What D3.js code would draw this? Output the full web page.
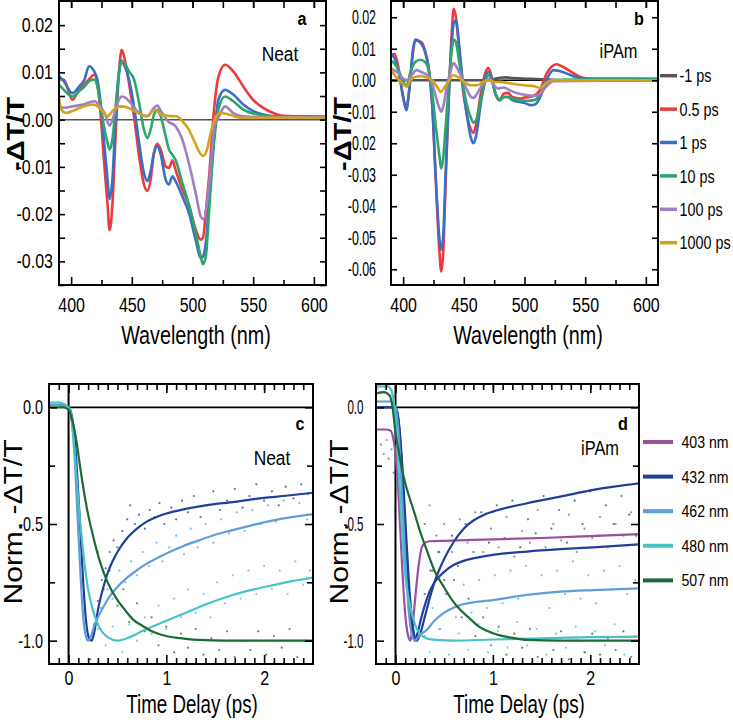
<!DOCTYPE html>
<html><head><meta charset="utf-8">
<script src="https://cdn.jsdelivr.net/npm/d3@7"></script>
<style>body{margin:0;background:#fff}svg{display:block}</style>
</head><body>
<svg id="chart" width="733" height="723"></svg>
<script>
// ---------------- DATA ----------------
// Panel a (Neat) transient spectra
const aWl = [390,394,401,406.5,411,414.7,419,421.6,424,427,430,431.7,434,436.7,439.4,441.6,443.6,447.7,451.8,456,460,462.8,465.5,468.3,471,473.8,477.9,480.6,483.4,486,491.6,497,502.6,506.7,508.6,511,514,517.7,521.3,526.8,533.6,541.9,550,558.3,566.6,574.8,588.6,610];
const aRed = [0.0085,0.0085,0.0042,0.0063,0.0075,0.0085,0.0095,0.0077,0.002,-0.0085,-0.018,-0.0234,-0.018,-0.003,0.0099,0.0148,0.0134,0.0077,0.0007,-0.0077,-0.0137,-0.0151,-0.0127,-0.007,-0.0051,-0.0063,-0.0099,-0.0102,-0.0086,-0.0106,-0.0148,-0.018,-0.0232,-0.0254,-0.025,-0.0195,-0.011,0.002,0.009,0.0116,0.0102,0.007,0.0042,0.0025,0.0014,0.0008,0.0007,0.0006];
const aBlue = [0.0092,0.0081,0.0056,0.007,0.0085,0.0113,0.0102,0.0085,0.0042,-0.0042,-0.0127,-0.0168,-0.0127,0.0007,0.0099,0.0125,0.0116,0.0085,0.0028,-0.0049,-0.0113,-0.013,-0.0109,-0.007,-0.0056,-0.0074,-0.0127,-0.0137,-0.012,-0.013,-0.0162,-0.0197,-0.0254,-0.0293,-0.029,-0.026,-0.016,-0.0042,0.0042,0.0063,0.0053,0.0032,0.0018,0.0011,0.0007,0.0006,0.0006,0.0006];
const aGreen = [0.0074,0.0063,0.0049,0.006,0.007,0.0081,0.0085,0.007,0.0035,-0.0014,-0.0049,-0.0063,-0.0042,0.0028,0.0099,0.0123,0.012,0.0102,0.0085,0.0035,-0.0021,-0.0039,-0.0021,0.0011,0.0021,0.0007,-0.0035,-0.0063,-0.0074,-0.0085,-0.0134,-0.018,-0.0239,-0.0289,-0.0306,-0.0289,-0.018,-0.0049,0.0021,0.0049,0.0039,0.0021,0.0013,0.0009,0.0007,0.0006,0.0006,0.0006];
const aPurple = [[390,0.0028],[394,0.0025],[401,0.0028],[410,0.0032],[419,0.0039],[424,0.0028],[428,0.0011],[431.7,-0.0013],[435,0.0007],[439.4,0.0042],[441.6,0.0049],[445,0.0046],[450,0.0032],[456,0.0014],[462.8,0.0007],[468.3,0.0025],[471,0.003],[474,0.0018],[480,-0.0004],[486,-0.0014],[491.6,-0.0042],[497,-0.0092],[502.6,-0.0155],[506.7,-0.0204],[509,-0.0211],[512,-0.0176],[515,-0.0099],[518,-0.0014],[521.3,0.0004],[526.8,0.0028],[533.6,0.0014],[541.9,0.0007],[560,0.0005],[610,0.0005]];
const aGold = [[390,0.0045],[392,0.0021],[396,0.0014],[401,0.0018],[410,0.0028],[418,0.0032],[422,0.0028],[427,0.0014],[430,0.0007],[434,0.0018],[440,0.0028],[447,0.0025],[455,0.0014],[462,0.0007],[469,0.0021],[474,0.0011],[480,0.0008],[487,0.0007],[492,-0.0004],[497,-0.0021],[502,-0.0049],[506,-0.007],[509,-0.0077],[512,-0.0063],[515,-0.0028],[519,0.0004],[523,0.0014],[530,0.0011],[540,0.0004],[610,0.0004]];

// Panel b (iPAm) transient spectra
const bGray = [[390,0],[470,0],[476,0.0005],[480,0.0008],[485,0.0009],[490,0.0007],[500,0.0005],[510,0.0004],[520,0.0002],[530,0],[610,0]];
const bRed = [[390,0.0074],[393,0.0084],[396,0.0042],[400,-0.0053],[402.6,-0.009],[405,-0.0032],[408,0.0084],[410,0.0127],[415,0.0121],[418,0.0095],[421,0.0042],[424,-0.0074],[427,-0.0327],[430,-0.0549],[431.4,-0.0607],[433,-0.0549],[435,-0.0327],[437.5,-0.0063],[440,0.0148],[441.6,0.0227],[443.5,0.02],[446,0.0105],[449,-0.0021],[452.3,-0.0105],[456,-0.0158],[458,-0.0167],[460,-0.0142],[464,-0.0042],[468,0.0026],[470.3,0.0039],[472.6,0.0016],[476,-0.0042],[479.5,-0.0063],[483,-0.0042],[486,-0.004],[490,-0.0053],[496,-0.0058],[500,-0.0055],[507,-0.005],[512.6,-0.0032],[518.2,0.0021],[526.4,0.0051],[531.9,0.0042],[540,0.0023],[548.3,0.0008],[556.6,0.0005],[610,0.0005]];
const bBlue = [[390,0.0084],[393,0.0069],[396,0.0032],[400,-0.0053],[402.6,-0.0095],[405,-0.0032],[408,0.0095],[410,0.0129],[415,0.0116],[418,0.009],[421,0.0037],[424,-0.0084],[427,-0.0316],[430,-0.0506],[431.4,-0.0538],[433,-0.0496],[435,-0.0295],[437.5,-0.0063],[440,0.0116],[441.6,0.0179],[443.5,0.019],[446,0.0116],[449,0],[452.3,-0.0105],[456,-0.0185],[458,-0.02],[460,-0.0179],[464,-0.0074],[468,0.0011],[470.3,0.0026],[472.6,0.0011],[476,-0.0042],[479.5,-0.0063],[483,-0.0053],[486,-0.0053],[490,-0.0063],[496,-0.0069],[500,-0.0072],[505,-0.0079],[509,-0.0076],[513,-0.0053],[518,0],[524,0.0032],[528,0.003],[535,0.0021],[542,0.0011],[550,0.0005],[610,0.0004]];
const bGreen = [[390,0.0063],[394,0.0047],[398,0.0016],[401,-0.0011],[403,-0.0016],[406,0.0026],[410,0.0058],[414,0.0065],[418,0.0058],[421,0.0032],[424,-0.0042],[427,-0.0148],[430,-0.0243],[431.4,-0.028],[433,-0.0248],[435,-0.0148],[437.5,-0.0021],[440,0.0095],[441.6,0.0129],[443.5,0.0121],[446,0.0063],[449,-0.0011],[452.3,-0.0074],[456,-0.0121],[458,-0.0135],[460,-0.0127],[464,-0.0063],[468,0],[470.3,0.0016],[472.6,0.0005],[476,-0.0042],[479.5,-0.0063],[483,-0.0053],[486,-0.0053],[490,-0.0058],[496,-0.0063],[502,-0.0065],[508,-0.0063],[513,-0.0047],[518,-0.0016],[524,0],[535,0.0002],[610,0.0002]];
const bPurple = [[390,0.0037],[395,0.0026],[400,0.0005],[403,0],[407,0.0016],[411,0.0032],[415,0.0026],[420,0.0016],[424,-0.0011],[427,-0.0053],[430,-0.009],[431.4,-0.01],[433,-0.0084],[436,-0.0021],[440,0.0042],[441.6,0.0055],[444,0.0042],[448,0.0011],[452,-0.0026],[456,-0.0053],[458,-0.0056],[461,-0.0042],[465,-0.0016],[469,0],[471,0.0004],[474,-0.0011],[478,-0.0026],[483,-0.0023],[488,-0.0032],[495,-0.0042],[502,-0.0047],[508,-0.005],[513,-0.0042],[518,-0.0019],[524,-0.0003],[610,0]];
const bGold = [[390,0.0037],[393,0.0016],[397,0],[401,-0.0016],[403,-0.0021],[406,0],[410,0.0011],[415,0.0013],[420,0.0008],[424,0],[428,-0.0021],[431,-0.0037],[434,-0.0023],[438,0],[441,0.0016],[445,0.0011],[450,-0.0005],[456,-0.0016],[461,-0.0016],[466,-0.0005],[470,0],[475,-0.0005],[480,-0.0005],[490,-0.0011],[500,-0.0016],[508,-0.0019],[513,-0.0025],[517,-0.0011],[522,0],[610,0]];
const delayLabels = ["-1 ps","0.5 ps","1 ps","10 ps","100 ps","1000 ps"];
const specColors = ["#555555","#ec3a3f","#3b6fc3","#2ca66a","#a17fc6","#d3a21f"];

// Panel c (Neat) kinetics: fits and data points [time (ps), norm. signal]
const c432Fit = [[-0.2,0.01],[-0.1,0.01],[0,0],[0.03,-0.03],[0.06,-0.12],[0.09,-0.3],[0.12,-0.52],[0.15,-0.75],[0.18,-0.92],[0.21,-0.99],[0.235,-1.0],[0.26,-0.97],[0.3,-0.87],[0.35,-0.78],[0.4,-0.71],[0.45,-0.66],[0.5,-0.62],[0.6,-0.56],[0.7,-0.52],[0.8,-0.49],[0.9,-0.47],[1.0,-0.455],[1.2,-0.435],[1.4,-0.42],[1.7,-0.405],[2.0,-0.388],[2.2,-0.38],[2.5,-0.366]];
const c462Fit = [[-0.2,0.01],[-0.1,0.01],[0,0],[0.03,-0.05],[0.06,-0.2],[0.09,-0.45],[0.12,-0.7],[0.15,-0.9],[0.18,-0.985],[0.2,-1.0],[0.23,-0.98],[0.26,-0.94],[0.3,-0.9],[0.35,-0.86],[0.42,-0.81],[0.5,-0.77],[0.6,-0.73],[0.66,-0.71],[0.8,-0.67],[1.0,-0.626],[1.17,-0.595],[1.34,-0.569],[1.5,-0.546],[1.68,-0.526],[1.85,-0.508],[2.02,-0.491],[2.25,-0.473],[2.5,-0.458]];
const c480Fit = [[-0.2,0.02],[-0.1,0.02],[0,0],[0.03,-0.04],[0.06,-0.18],[0.1,-0.4],[0.15,-0.62],[0.2,-0.78],[0.25,-0.87],[0.3,-0.93],[0.4,-0.985],[0.5,-1.0],[0.6,-0.99],[0.7,-0.97],[0.8,-0.95],[1.0,-0.915],[1.2,-0.88],[1.4,-0.845],[1.6,-0.815],[1.8,-0.79],[2.0,-0.77],[2.2,-0.752],[2.5,-0.73]];
const c507Fit = [[-0.2,0],[-0.05,0],[0,-0.01],[0.04,-0.06],[0.083,-0.15],[0.12,-0.26],[0.186,-0.43],[0.25,-0.55],[0.32,-0.66],[0.4,-0.75],[0.49,-0.82],[0.58,-0.87],[0.66,-0.91],[0.75,-0.935],[0.83,-0.955],[1.0,-0.98],[1.2,-0.992],[1.34,-0.997],[1.6,-1.0],[2.5,-1.0]];
const c432Dots = [[0.22,-1.08],[0.26,-0.93],[0.3,-0.83],[0.34,-0.74],[0.38,-0.69],[0.42,-0.62],[0.46,-0.57],[0.5,-0.6],[0.55,-0.53],[0.6,-0.48],[0.63,-0.42],[0.68,-0.5],[0.72,-0.46],[0.78,-0.52],[0.83,-0.44],[0.88,-0.47],[0.93,-0.41],[0.98,-0.5],[1.05,-0.43],[1.1,-0.48],[1.16,-0.4],[1.22,-0.45],[1.28,-0.38],[1.35,-0.47],[1.42,-0.42],[1.48,-0.36],[1.55,-0.44],[1.62,-0.4],[1.7,-0.35],[1.78,-0.43],[1.85,-0.38],[1.92,-0.33],[2.0,-0.4],[2.08,-0.36],[2.15,-0.42],[2.22,-0.34],[2.3,-0.39],[2.38,-0.33],[2.45,-0.37]];
const c462Dots = [[0.28,-0.9],[0.33,-0.86],[0.4,-0.78],[0.45,-0.82],[0.52,-0.7],[0.58,-0.75],[0.64,-0.66],[0.7,-0.72],[0.76,-0.62],[0.82,-0.68],[0.9,-0.58],[0.96,-0.66],[1.03,-0.6],[1.1,-0.55],[1.18,-0.63],[1.25,-0.52],[1.32,-0.6],[1.4,-0.5],[1.48,-0.58],[1.56,-0.48],[1.64,-0.54],[1.72,-0.45],[1.8,-0.53],[1.88,-0.44],[1.96,-0.5],[2.04,-0.42],[2.12,-0.49],[2.2,-0.4],[2.28,-0.47],[2.36,-0.41],[2.44,-0.48]];
const c480Dots = [[0.3,-0.95],[0.38,-1.02],[0.45,-0.94],[0.55,-1.05],[0.62,-0.93],[0.7,-1.0],[0.78,-0.9],[0.85,-0.97],[0.92,-0.85],[1.0,-0.95],[1.08,-0.82],[1.15,-0.9],[1.22,-0.78],[1.3,-0.88],[1.38,-0.8],[1.45,-0.9],[1.52,-0.75],[1.6,-0.84],[1.68,-0.72],[1.76,-0.82],[1.84,-0.7],[1.92,-0.8],[2.0,-0.68],[2.08,-0.78],[2.16,-0.7],[2.24,-0.8],[2.32,-0.66],[2.4,-0.76],[2.47,-0.7]];
const c507Dots = [[0.3,-0.62],[0.36,-0.78],[0.42,-0.7],[0.5,-0.85],[0.56,-0.78],[0.62,-0.92],[0.7,-0.84],[0.78,-0.96],[0.85,-0.9],[0.92,-1.02],[1.0,-0.94],[1.08,-1.05],[1.15,-0.97],[1.22,-1.03],[1.3,-0.95],[1.38,-1.06],[1.46,-0.99],[1.54,-1.04],[1.62,-0.96],[1.7,-1.07],[1.78,-1.0],[1.86,-1.04],[1.94,-0.96],[2.02,-1.06],[2.1,-0.98],[2.18,-1.03],[2.26,-0.95],[2.34,-1.07],[2.42,-1.0]];

// Panel d (iPAm) kinetics
const d403Fit = [[-0.2,-0.095],[-0.1,-0.095],[-0.05,-0.1],[-0.03,-0.12],[0,-0.2],[0.034,-0.4],[0.068,-0.68],[0.103,-0.9],[0.137,-0.99],[0.152,-1.0],[0.17,-0.96],[0.2,-0.83],[0.237,-0.68],[0.27,-0.6],[0.305,-0.58],[0.35,-0.574],[0.5,-0.572],[1.0,-0.566],[1.5,-0.56],[2.0,-0.552],[2.5,-0.543]];
const d432FitA = [[-0.2,0],[0,0],[0.03,-0.05],[0.07,-0.25],[0.11,-0.55],[0.15,-0.82],[0.19,-0.97],[0.22,-1.0],[0.25,-0.975],[0.3,-0.9],[0.35,-0.82],[0.4,-0.75],[0.5,-0.65],[0.6,-0.575],[0.7,-0.52],[0.8,-0.485],[0.9,-0.462],[1.0,-0.447],[1.35,-0.411],[1.69,-0.383],[2.03,-0.354],[2.5,-0.326]];
const d432FitB = [[-0.2,0],[0,0],[0.03,-0.05],[0.07,-0.28],[0.11,-0.6],[0.15,-0.87],[0.185,-0.99],[0.2,-1.0],[0.225,-0.97],[0.26,-0.91],[0.3,-0.85],[0.35,-0.79],[0.4,-0.75],[0.5,-0.705],[0.6,-0.675],[0.7,-0.658],[0.85,-0.643],[1.0,-0.632],[1.35,-0.618],[1.69,-0.608],[2.03,-0.6],[2.5,-0.587]];
const d462Fit = [[-0.2,0.025],[-0.05,0.025],[0,0],[0.03,-0.1],[0.07,-0.4],[0.11,-0.72],[0.15,-0.93],[0.18,-0.99],[0.2,-1.0],[0.24,-0.98],[0.32,-0.954],[0.4,-0.915],[0.49,-0.883],[0.58,-0.862],[0.665,-0.847],[0.8,-0.836],[1.0,-0.826],[1.35,-0.804],[1.69,-0.79],[2.03,-0.783],[2.5,-0.776]];
const d480Fit = [[-0.2,0.09],[-0.08,0.09],[-0.04,0.07],[0,-0.05],[0.03,-0.25],[0.07,-0.55],[0.1,-0.72],[0.15,-0.85],[0.2,-0.93],[0.25,-0.97],[0.32,-0.99],[0.42,-0.997],[0.6,-1.0],[1.0,-0.995],[1.5,-0.99],[2.0,-0.985],[2.5,-0.983]];
const d507Fit = [[-0.2,0.06],[-0.12,0.065],[-0.06,0.05],[-0.03,0.0],[0,-0.11],[0.034,-0.19],[0.068,-0.268],[0.11,-0.34],[0.152,-0.397],[0.2,-0.46],[0.237,-0.511],[0.28,-0.565],[0.32,-0.611],[0.4,-0.7],[0.494,-0.768],[0.58,-0.825],[0.665,-0.868],[0.75,-0.9],[0.836,-0.933],[1.0,-0.968],[1.2,-0.988],[1.35,-0.997],[1.7,-1.0],[2.5,-1.0]];
const d403Dots = [[-0.15,-0.16],[-0.12,-0.2],[-0.09,-0.14],[-0.07,-0.22],[-0.04,-0.18],[-0.02,-0.28],[0.35,-0.42],[0.42,-0.55],[0.5,-0.5],[0.58,-0.62],[0.66,-0.48],[0.74,-0.58],[0.82,-0.45],[0.9,-0.62],[0.98,-0.52],[1.06,-0.6],[1.14,-0.47],[1.22,-0.64],[1.3,-0.53],[1.38,-0.58],[1.46,-0.44],[1.54,-0.6],[1.62,-0.5],[1.7,-0.57],[1.78,-0.46],[1.86,-0.62],[1.94,-0.52],[2.02,-0.56],[2.1,-0.47],[2.18,-0.6],[2.26,-0.5],[2.34,-0.55],[2.42,-0.45]];
const d432Dots = [[0.3,-0.8],[0.36,-0.7],[0.44,-0.62],[0.5,-0.74],[0.58,-0.55],[0.64,-0.68],[0.72,-0.5],[0.8,-0.62],[0.88,-0.45],[0.96,-0.58],[1.04,-0.42],[1.12,-0.56],[1.2,-0.4],[1.28,-0.6],[1.36,-0.48],[1.44,-0.54],[1.52,-0.38],[1.6,-0.52],[1.68,-0.44],[1.76,-0.58],[1.84,-0.4],[1.92,-0.5],[2.0,-0.36],[2.08,-0.55],[2.16,-0.42],[2.24,-0.5],[2.32,-0.38],[2.4,-0.46],[2.47,-0.55]];
const d462Dots = [[0.3,-0.98],[0.38,-0.86],[0.46,-0.95],[0.54,-0.8],[0.62,-0.9],[0.7,-0.76],[0.78,-0.88],[0.86,-0.74],[0.94,-0.86],[1.02,-0.72],[1.1,-0.84],[1.18,-0.7],[1.26,-0.82],[1.34,-0.68],[1.42,-0.8],[1.5,-0.72],[1.58,-0.86],[1.66,-0.7],[1.74,-0.8],[1.82,-0.66],[1.9,-0.82],[1.98,-0.72],[2.06,-0.84],[2.14,-0.7],[2.22,-0.78],[2.3,-0.68],[2.38,-0.8],[2.46,-0.74]];
const d480Dots = [[-0.18,0.08],[-0.15,0.06],[-0.1,0.09],[-0.05,0.05],[0.35,-1.05],[0.45,-0.95],[0.55,-1.06],[0.65,-0.97],[0.75,-1.04],[0.85,-0.93],[0.95,-1.05],[1.05,-0.96],[1.15,-1.03],[1.25,-0.92],[1.35,-1.02],[1.45,-0.95],[1.55,-1.06],[1.65,-0.97],[1.75,-1.03],[1.85,-0.94],[1.95,-1.05],[2.05,-0.96],[2.15,-1.02],[2.25,-0.93],[2.35,-1.06],[2.45,-0.98]];
const d507Dots = [[0.3,-0.5],[0.38,-0.7],[0.45,-0.62],[0.52,-0.8],[0.6,-0.74],[0.68,-0.9],[0.75,-0.82],[0.82,-0.98],[0.9,-0.9],[0.98,-1.02],[1.06,-0.94],[1.14,-1.06],[1.22,-0.97],[1.3,-1.03],[1.38,-0.95],[1.46,-1.07],[1.54,-0.99],[1.62,-1.04],[1.7,-0.96],[1.78,-1.08],[1.86,-1.0],[1.94,-1.05],[2.02,-0.97],[2.1,-1.06],[2.18,-0.99],[2.26,-1.04],[2.34,-0.96],[2.42,-1.07]];
const kinLabels = ["403 nm","432 nm","462 nm","480 nm","507 nm"];
const kinColors = ["#9a4f9d","#203f99","#5f9ed9","#47c3c6","#1c6a36"];

// Tick values / labels
const wlMajor = [400,450,500,550,600];
const wlMajorLabels = ["400","450","500","550","600"];
const wlMinor = [425,475,525,575];
const aYMajor = [-0.03,-0.02,-0.01,0,0.01,0.02];
const aYLabels = ["-0.03","-0.02","-0.01","0.00","0.01","0.02"];
const aYMinor = [-0.035,-0.025,-0.015,-0.005,0.005,0.015];
const bYMajor = [-0.06,-0.05,-0.04,-0.03,-0.02,-0.01,0,0.01,0.02];
const bYLabels = ["-0.06","-0.05","-0.04","-0.03","-0.02","-0.01","0.00","0.01","0.02"];
const tMajor = [0,1,2];
const tMajorLabels = ["0","1","2"];
const tMinor = [-0.1,0.1,0.2,0.3,0.4,0.5,0.6,0.7,0.8,0.9,1.1,1.2,1.3,1.4,1.5,1.6,1.7,1.8,1.9,2.1,2.2,2.3,2.4];
const nYMajor = [-1.0,-0.5,0];
const nYLabels = ["-1.0","-0.5","0.0"];
const nYMinor = [-0.75,-0.25];

// ---------------- DRAWING ----------------
const FONT = "'Liberation Sans', Arial, Helvetica, sans-serif";
const svg = d3.select('#chart');

const xA = d3.scaleLinear().domain([390,610]).range([59,326]);
const yA = d3.scaleLinear().domain([-0.035,0.025]).range([285,1.5]);
const xB = d3.scaleLinear().domain([390,610]).range([391,658]);
const yB = d3.scaleLinear().domain([-0.065,0.025]).range([285,1.5]);
const xC = d3.scaleLinear().domain([-0.2,2.5]).range([49,313]);
const yC = d3.scaleLinear().domain([-1.1,0.1]).range([664,384]);
const xD = d3.scaleLinear().domain([-0.2,2.5]).range([376,639]);
const yD = d3.scaleLinear().domain([-1.1,0.1]).range([664,384]);

function label(x, y, str, o) {
  o = Object.assign({size:20, sx:0.8, anchor:'middle', weight:'normal', rot:0, baseline:null}, o||{});
  const t = svg.append('text')
    .attr('transform', `translate(${x},${y}) scale(${o.sx},1)` + (o.rot ? ` rotate(${o.rot})` : ''))
    .attr('text-anchor', o.anchor).attr('font-size', o.size).attr('font-weight', o.weight)
    .attr('font-family', FONT).attr('fill', '#000').text(str);
  if (o.baseline) t.attr('dominant-baseline', o.baseline);
  return t;
}

function styleAxis(g, sx) {
  g.select('.domain').remove();
  g.selectAll('line').attr('stroke', '#000').attr('stroke-width', 1.6);
  g.selectAll('text').attr('font-size', 20).attr('font-family', FONT).attr('fill', '#000')
    .attr('transform', `scale(${sx},1)`);
}

function axes(x, y, cfg) {
  const g = svg.append('g');
  const [bx0, bx1] = x.range();
  const yb = y.range()[0];
  const top = cfg.frameTop;
  g.append('g').attr('transform', `translate(0,${yb})`)
    .call(d3.axisBottom(x).tickValues(cfg.xMajor).tickFormat((d,i)=>cfg.xLabels[i])
      .tickSizeInner(-cfg.xMajLen).tickSizeOuter(0).tickPadding(cfg.xPad))
    .call(s => styleAxis(s, 0.8));
  g.append('g').attr('transform', `translate(0,${yb})`)
    .call(d3.axisBottom(x).tickValues(cfg.xMinor).tickFormat(()=> '').tickSizeInner(-cfg.xMinLen).tickSizeOuter(0))
    .call(s => styleAxis(s, 0.8));
  g.append('g').attr('transform', `translate(0,${top})`)
    .call(d3.axisTop(x).tickValues(cfg.xMajor.concat(cfg.xMinor)).tickFormat(()=> '').tickSizeInner(-cfg.topLen).tickSizeOuter(0))
    .call(s => styleAxis(s, 0.8));
  g.append('g').attr('transform', `translate(0,${top})`)
    .call(d3.axisTop(x).tickValues(cfg.xMajor).tickFormat(()=> '').tickSizeInner(-cfg.topMajLen).tickSizeOuter(0))
    .call(s => styleAxis(s, 0.8));
  // left labels: gap (px) converted to pre-scale padding
  g.append('g').attr('transform', `translate(${bx0},0)`)
    .call(d3.axisLeft(y).tickValues(cfg.yMajor).tickFormat((d,i)=>cfg.yLabels[i])
      .tickSizeInner(-cfg.yLen).tickSizeOuter(0).tickPadding(cfg.yGap / cfg.ySx))
    .call(s => styleAxis(s, cfg.ySx));
  g.append('g').attr('transform', `translate(${bx1},0)`)
    .call(d3.axisRight(y).tickValues(cfg.yMajor).tickFormat(()=> '').tickSizeInner(-cfg.yLen).tickSizeOuter(0))
    .call(s => styleAxis(s, 0.8));
  if (cfg.yMinor) {
    g.append('g').attr('transform', `translate(${bx0},0)`)
      .call(d3.axisLeft(y).tickValues(cfg.yMinor).tickFormat(()=> '').tickSizeInner(-cfg.yMinLen).tickSizeOuter(0))
      .call(s => styleAxis(s, 0.8));
    g.append('g').attr('transform', `translate(${bx1},0)`)
      .call(d3.axisRight(y).tickValues(cfg.yMinor).tickFormat(()=> '').tickSizeInner(-cfg.yMinLen).tickSizeOuter(0))
      .call(s => styleAxis(s, 0.8));
  }
  g.append('rect').attr('x', bx0).attr('y', top).attr('width', bx1 - bx0).attr('height', yb - top)
    .attr('fill', 'none').attr('stroke', '#000').attr('stroke-width', 2);
}

function clip(id, x, y, top) {
  svg.append('clipPath').attr('id', id).append('rect')
    .attr('x', x.range()[0]).attr('y', top).attr('width', x.range()[1]-x.range()[0]).attr('height', y.range()[0]-top);
}

const lineGen = (x, y) => d3.line().x(d => x(d[0])).y(d => y(d[1])).curve(d3.curveMonotoneX);

// ---- Panel a ----
clip('clipA', xA, yA, 1);
const gA = svg.append('g').attr('clip-path', 'url(#clipA)');
gA.append('line').attr('x1', xA(390)).attr('x2', xA(610)).attr('y1', yA(0)).attr('y2', yA(0))
  .attr('stroke', '#555').attr('stroke-width', 1.5);
const aSeries = [
  [aWl.map((w,i)=>[w,aRed[i]]), specColors[1]],
  [aWl.map((w,i)=>[w,aBlue[i]]), specColors[2]],
  [aWl.map((w,i)=>[w,aGreen[i]]), specColors[3]],
  [aPurple, specColors[4]],
  [aGold, specColors[5]]
];
aSeries.forEach(([d,c]) => gA.append('path').datum(d).attr('d', lineGen(xA,yA))
  .attr('fill','none').attr('stroke',c).attr('stroke-width',2.6).attr('stroke-linejoin','round'));
axes(xA, yA, {xMajor:wlMajor, xLabels:wlMajorLabels, xMinor:wlMinor, xMajLen:8, xMinLen:5, xPad:12.5,
  topLen:7, topMajLen:7, frameTop:1, yMajor:aYMajor, yLabels:aYLabels, yMinor:aYMinor, yLen:6, yMinLen:6, yGap:6, ySx:0.8});

// ---- Panel b ----
clip('clipB', xB, yB, 1);
const gB = svg.append('g').attr('clip-path', 'url(#clipB)');
gB.append('line').attr('x1', xB(390)).attr('x2', xB(610)).attr('y1', yB(0)).attr('y2', yB(0))
  .attr('stroke', '#000').attr('stroke-width', 1.6);
const bSeries = [bGray, bRed, bBlue, bGreen, bPurple, bGold];
bSeries.forEach((d,i) => gB.append('path').datum(d).attr('d', lineGen(xB,yB))
  .attr('fill','none').attr('stroke',specColors[i]).attr('stroke-width',2.6).attr('stroke-linejoin','round'));
axes(xB, yB, {xMajor:wlMajor, xLabels:wlMajorLabels, xMinor:wlMinor, xMajLen:8, xMinLen:5, xPad:12.5,
  topLen:7, topMajLen:7, frameTop:1, yMajor:bYMajor, yLabels:bYLabels, yMinor:null, yLen:6, yGap:15, ySx:0.62});
delayLabels.forEach((s,i) => {
  const yy = 75.7 + i*33.4;
  svg.append('line').attr('x1',660).attr('x2',677).attr('y1',yy).attr('y2',yy)
    .attr('stroke',specColors[i]).attr('stroke-width',3.5);
  label(679.5, yy, s, {size:18, sx:0.8, anchor:'start', baseline:'central'});
});

// ---- Panels c & d ----
function kinPanel(id, x, y, fits, dots, colorsIdx) {
  clip(id, x, y, 384);
  const g = svg.append('g').attr('clip-path', `url(#${id})`);
  dots.forEach((ds, k) => g.append('g').selectAll('circle').data(ds).join('circle')
    .attr('cx', d => x(d[0])).attr('cy', d => y(d[1])).attr('r', 1.1)
    .attr('fill', kinColors[colorsIdx[k]]).attr('opacity', 0.75));
  g.append('line').attr('x1', x(0)).attr('x2', x(2.5)).attr('y1', y(0)).attr('y2', y(0))
    .attr('stroke', '#000').attr('stroke-width', 1.6);
  g.append('line').attr('x1', x(0)).attr('x2', x(0)).attr('y1', 384).attr('y2', 664)
    .attr('stroke', '#000').attr('stroke-width', 2);
  fits.forEach(([d, ci]) => g.append('path').datum(d).attr('d', lineGen(x,y))
    .attr('fill','none').attr('stroke',kinColors[ci]).attr('stroke-width',2.2).attr('stroke-linejoin','round'));
}
kinPanel('clipC', xC, yC,
  [[c432Fit,1],[c462Fit,2],[c480Fit,3],[c507Fit,4]],
  [c432Dots, c462Dots, c480Dots, c507Dots], [1,2,3,4]);
axes(xC, yC, {xMajor:tMajor, xLabels:tMajorLabels, xMinor:tMinor, xMajLen:9, xMinLen:6, xPad:7,
  topLen:6, topMajLen:9, frameTop:384, yMajor:nYMajor, yLabels:nYLabels, yMinor:nYMinor, yLen:8, yMinLen:6, yGap:6, ySx:0.72});

kinPanel('clipD', xD, yD,
  [[d403Fit,0],[d432FitA,1],[d432FitB,1],[d462Fit,2],[d480Fit,3],[d507Fit,4]],
  [d403Dots, d432Dots, d462Dots, d480Dots, d507Dots], [0,1,2,3,4]);
axes(xD, yD, {xMajor:tMajor, xLabels:tMajorLabels, xMinor:tMinor, xMajLen:9, xMinLen:6, xPad:7,
  topLen:6, topMajLen:9, frameTop:384, yMajor:nYMajor, yLabels:nYLabels, yMinor:nYMinor, yLen:8, yMinLen:6, yGap:12.5, ySx:0.58});
kinLabels.forEach((s,i) => {
  const yy = 442 + i*34.6;
  svg.append('line').attr('x1',643).attr('x2',673).attr('y1',yy).attr('y2',yy)
    .attr('stroke',kinColors[i]).attr('stroke-width',4);
  label(681.5, yy, s, {size:17, sx:0.83, anchor:'start', baseline:'central'});
});

// ---- Titles & annotations ----
label(196, 344, 'Wavelength (nm)', {size:26, sx:0.76});
label(528, 344, 'Wavelength (nm)', {size:26, sx:0.76});
label(192, 713, 'Time Delay (ps)', {size:25, sx:0.75});
label(519, 713, 'Time Delay (ps)', {size:25, sx:0.75});
label(16, 134, '-ΔT/T', {size:29, sx:0.85, weight:'bold', rot:-90, baseline:'central'});
label(343, 134, '-ΔT/T', {size:29, sx:0.85, weight:'bold', rot:-90, baseline:'central'});
label(13, 522, 'Norm. -ΔT/T', {size:30, sx:0.84, rot:-90, baseline:'central'});
label(339, 522, 'Norm. -ΔT/T', {size:30, sx:0.84, rot:-90, baseline:'central'});
label(302, 25, 'a', {size:19, sx:0.85, weight:'bold'});
label(280, 61, 'Neat', {size:20, sx:0.87});
label(639, 25, 'b', {size:19, sx:0.85, weight:'bold'});
label(618.5, 58, 'iPAm', {size:20, sx:0.82});
label(300, 430, 'c', {size:19, sx:0.85, weight:'bold'});
label(272, 465, 'Neat', {size:20, sx:0.87});
label(623, 430, 'd', {size:19, sx:0.85, weight:'bold'});
label(600, 455, 'iPAm', {size:20, sx:0.82});
</script>
</body></html>
